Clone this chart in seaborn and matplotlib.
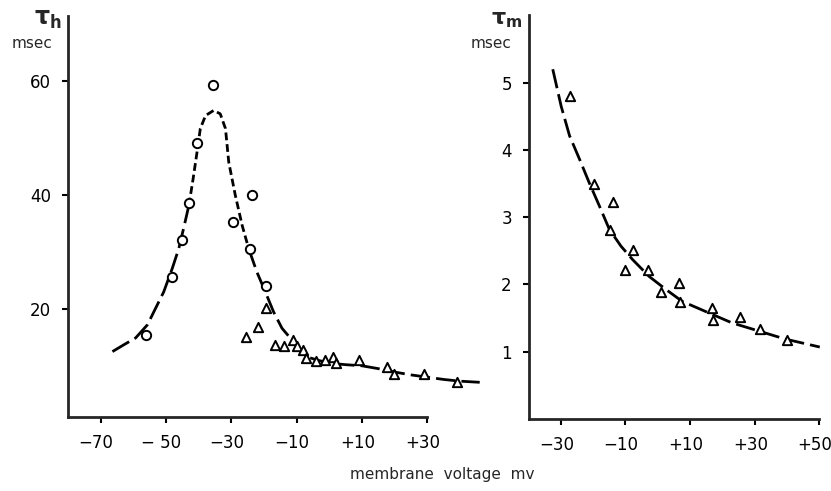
import numpy as np
import pandas as pd
import matplotlib
matplotlib.use('Agg')
import matplotlib.pyplot as plt
import matplotlib.transforms as mtransforms
import seaborn as sns

# ==========================================
# Data
# ==========================================
# tau_h, circles (left panel)
h_circ_v = [-56.0, -48.3, -45.2, -43.0, -40.4, -35.6, -29.5, -24.4, -23.6, -19.5]
h_circ_tau = [15.4, 25.6, 32.2, 38.6, 49.2, 59.4, 35.2, 30.6, 40.1, 24.0]

# tau_h, triangles (left panel)
h_tri_v = [-25.4, -21.7, -19.4, -16.5, -13.8, -11.0, -9.9, -8.1, -7.3, -4.0,
           -1.3, 1.2, 1.9, 9.0, 17.5, 19.9, 28.9, 39.2]
h_tri_tau = [15.1, 16.9, 20.1, 13.7, 13.4, 14.6, 13.4, 12.7, 11.4, 10.9,
             11.1, 11.5, 10.5, 11.0, 9.8, 8.5, 8.5, 7.2]

# tau_h fitted curve
h_fit_v = [-66.4, -62.9, -59.3, -55.7, -53.2, -50.7, -48.1, -46.1, -44.6, -43.0,
           -41.7, -40.5, -39.5, -37.9, -35.4, -33.4, -31.8, -30.8, -28.8, -26.7,
           -24.7, -22.2, -19.6, -17.1, -14.5, -12.0, -8.9, -5.9, -3.0, 1.0,
           5.0, 10.0, 15.0, 20.0, 25.0, 30.0, 35.0, 40.0, 46.0]
h_fit_tau = [12.5, 13.7, 14.9, 17.2, 20.1, 23.0, 27.1, 30.6, 34.2, 38.2,
             42.9, 47.6, 51.7, 54.0, 54.9, 54.3, 51.7, 45.8, 40.0, 34.7,
             30.6, 26.5, 23.0, 19.5, 16.6, 14.9, 12.5, 11.4, 10.9, 10.4,
             10.2, 10.0, 9.5, 8.9, 8.4, 8.0, 7.6, 7.3, 7.1]

# tau_m, triangles (right panel)
m_tri_v = [-27.3, -19.8, -14.0, -14.8, -7.8, -10.1, -3.0, 1.0, 6.7, 6.8,
           16.8, 17.2, 25.3, 31.7, 40.0]
m_tri_tau = [4.80, 3.49, 3.22, 2.81, 2.51, 2.21, 2.21, 1.89, 2.02, 1.74,
             1.65, 1.47, 1.51, 1.34, 1.18]

# tau_m fitted curve
m_fit_v = [-32.5, -29.9, -27.3, -24.2, -21.2, -18.1, -15.0, -11.4, -7.8, -2.7,
           2.4, 7.5, 14.7, 22.9, 31.1, 39.3, 50.1]
m_fit_tau = [5.20, 4.65, 4.21, 3.86, 3.51, 3.17, 2.82, 2.57, 2.37, 2.12,
             1.93, 1.75, 1.60, 1.43, 1.31, 1.19, 1.07]

h_xticks = [-70, -50, -30, -10, 10, 30]
h_xticklabels = ['\u221270', '\u2212 50', '\u221230', '\u221210', '+10', '+30']
h_yticks = [20, 40, 60]
m_xticks = [-30, -10, 10, 30, 50]
m_xticklabels = ['\u221230', '\u221210', '+10', '+30', '+50']
m_yticks = [1, 2, 3, 4, 5]

# ==========================================
# Plot configuration
# ==========================================
sns.set_style('ticks')
plt.rcParams['font.family'] = ['DejaVu Sans']
plt.rcParams['axes.linewidth'] = 2.0
plt.rcParams['xtick.major.width'] = 1.5
plt.rcParams['ytick.major.width'] = 1.5
plt.rcParams['xtick.major.size'] = 4
plt.rcParams['ytick.major.size'] = 4

fig = plt.figure(figsize=(8.31, 4.91), dpi=100)
ax1 = fig.add_axes([0.0818, 0.1507, 0.4994, 0.8167])
ax2 = fig.add_axes([0.636, 0.1466, 0.354, 0.822])

marker_kw = dict(facecolor='white', edgecolor='black', linewidth=1.4, zorder=3)
long_dash = (0, (7, 2.2))
short_dash = (0, (2.8, 1.4))

# ------ left panel: tau_h ------
h_fit = pd.DataFrame({'v': h_fit_v, 'tau': h_fit_tau})
sns.lineplot(data=h_fit.iloc[:10], x='v', y='tau', ax=ax1, color='black',
             linewidth=2.0, linestyle=long_dash, errorbar=None)
sns.lineplot(data=h_fit.iloc[9:21], x='v', y='tau', ax=ax1, color='black',
             linewidth=2.0, linestyle=short_dash, errorbar=None)
sns.lineplot(data=h_fit.iloc[20:], x='v', y='tau', ax=ax1, color='black',
             linewidth=2.0, linestyle=long_dash, errorbar=None)

sns.scatterplot(x=h_circ_v, y=h_circ_tau, ax=ax1, marker='o', s=45, **marker_kw)
sns.scatterplot(x=h_tri_v, y=h_tri_tau, ax=ax1, marker='^', s=45, **marker_kw)

ax1.set_xlim(-80, 47)
ax1.set_ylim(1, 71.5)
ax1.spines['bottom'].set_bounds(-80, 30)
ax1.set_xticks(h_xticks)
ax1.set_xticklabels(h_xticklabels)
ax1.set_yticks(h_yticks)

# ------ right panel: tau_m ------
m_fit = pd.DataFrame({'v': m_fit_v, 'tau': m_fit_tau})
sns.lineplot(data=m_fit, x='v', y='tau', ax=ax2, color='black',
             linewidth=2.0, linestyle=long_dash, errorbar=None)
sns.scatterplot(x=m_tri_v, y=m_tri_tau, ax=ax2, marker='^', s=45, **marker_kw)

ax2.set_xlim(-40, 51)
ax2.set_ylim(0, 6)
ax2.spines['bottom'].set_bounds(-40, 50)
ax2.set_xticks(m_xticks)
ax2.set_xticklabels(m_xticklabels)
ax2.set_yticks(m_yticks)

shift_left = mtransforms.ScaledTranslation(-0.045, 0, fig.dpi_scale_trans)
for ax in (ax1, ax2):
    sns.despine(ax=ax)
    ax.set_xlabel('')
    ax.set_ylabel('')
    ax.tick_params(labelsize=12, pad=8, colors='black')
    for lab in ax.get_xticklabels():
        lab.set_transform(lab.get_transform() + shift_left)

# axis titles
fig.text(0.058, 0.962, r'$\mathbf{\tau_h}$', fontsize=17, ha='center', va='center')
fig.text(0.039, 0.912, 'msec', fontsize=11, ha='center', va='center')
fig.text(0.610, 0.960, r'$\mathbf{\tau_m}$', fontsize=16, ha='center', va='center')
fig.text(0.591, 0.912, 'msec', fontsize=11, ha='center', va='center')
fig.text(0.532, 0.033, 'membrane  voltage  mv', fontsize=11, ha='center', va='center')

plt.savefig('out.png', dpi=100)
